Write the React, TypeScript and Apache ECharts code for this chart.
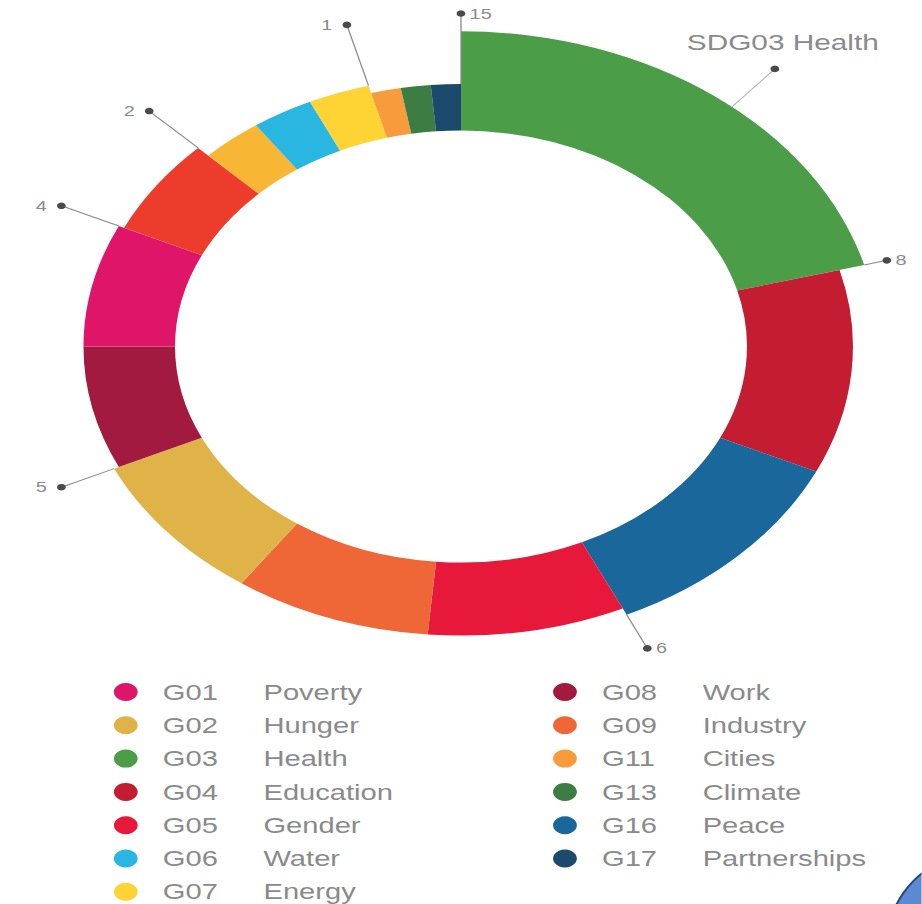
import React, { useEffect, useRef } from 'react';
import * as echarts from 'echarts';

// ---------- data ----------
const segmentCodes = ['G03', 'G04', 'G16', 'G05', 'G09', 'G02', 'G08', 'G01', 'G10', 'G12', 'G06', 'G07', 'G11', 'G13', 'G17'];
const segmentNames = ['Health', 'Education', 'Peace', 'Gender', 'Industry', 'Hunger', 'Work', 'Poverty', 'Inequality', 'Consumption', 'Water', 'Energy', 'Cities', 'Climate', 'Partnerships'];
const segmentValues = [15, 8, 8, 6, 6, 6, 5, 5, 4, 2, 2, 2, 1, 1, 1];
const segmentColors = ['#4b9e47', '#c41c30', '#19679b', '#e8183b', '#ef6737', '#e0b349', '#a31a40', '#df156a', '#ee3c2c', '#f7b634', '#29b6e1', '#fdd433', '#f79b3c', '#3b7d43', '#1b4a6d'];
const legendLeftCodes = ['G01', 'G02', 'G03', 'G04', 'G05', 'G06', 'G07'];
const legendRightCodes = ['G08', 'G09', 'G11', 'G13', 'G16', 'G17'];
const highlightCode = 'G03';

// ---------- layout / style ----------
const STRETCH = 1.324;
const PAGE_W = 922;
const PAGE_H = 904;
const CHART_W = PAGE_W / STRETCH;
const CX = 461 / STRETCH;
const CY = 346.5;
const INNER_R = 216;
const R_BASE = 244;
const R_TOP = 317.6;
const DOT_R = 333;
const ANNOT_R = 365;
const ANNOT_FRACTION = 0.54;
const FONT = "'Liberation Sans', Arial, sans-serif";
const TEXT_COLOR = '#8a8a8a';
const LINE_COLOR = '#8c8c8c';
const DOT_COLOR = '#4a4a4a';

export default function App() {
  const ref = useRef<HTMLDivElement>(null);

  useEffect(() => {
    if (!ref.current) return;
    const chart = echarts.init(ref.current, null, { renderer: 'svg', width: CHART_W, height: PAGE_H });

    const n = segmentValues.length;
    const starts: number[] = [];
    let acc = 0;
    segmentValues.forEach((v) => { starts.push(acc); acc += v; });
    const total = acc;
    const fullNames = segmentCodes.map((c, i) => `${c} ${segmentNames[i]}`);
    const nameOf = (code: string) => fullNames[segmentCodes.indexOf(code)];

    const renderSegment = (params: any, api: any) => {
      const cs = params.coordSys;
      const s = api.value(0);
      const e = api.value(1);
      const v = api.value(2);
      const pa = api.coord([Math.sqrt(v), s]);
      const pb = api.coord([Math.sqrt(v), e]);
      const a0 = Math.atan2(pa[1] - cs.cy, pa[0] - cs.cx);
      let a1 = Math.atan2(pb[1] - cs.cy, pb[0] - cs.cx);
      while (a1 <= a0 + 1e-9) a1 += Math.PI * 2;
      const r = Math.hypot(pa[0] - cs.cx, pa[1] - cs.cy);
      return {
        type: 'sector',
        shape: { cx: cs.cx, cy: cs.cy, r0: INNER_R, r, startAngle: a0, endAngle: a1, clockwise: true },
        style: { fill: api.visual('color') },
      };
    };

    const segmentSeries = segmentCodes.map((c, i) => ({
      type: 'custom',
      name: fullNames[i],
      coordinateSystem: 'polar',
      renderItem: renderSegment,
      itemStyle: { color: segmentColors[i] },
      data: [[starts[i], starts[i] + segmentValues[i], segmentValues[i]]],
      silent: true,
      z: 2,
    }));

    const boundaries = segmentValues
      .map((v, i) => [starts[i], v, segmentValues[(i - 1 + n) % n]])
      .filter((_, i) => i === 0 || segmentValues[i] !== segmentValues[i - 1]);

    const renderLabel = (params: any, api: any) => {
      const cs = params.coordSys;
      const pos = api.value(0);
      const val = api.value(1);
      const prev = api.value(2);
      const p = api.coord([Math.sqrt(prev), pos]);
      const dx = p[0] - cs.cx;
      const dy = p[1] - cs.cy;
      const rr = Math.hypot(dx, dy);
      const ux = dx / rr;
      const uy = dy / rr;
      const x2 = cs.cx + ux * DOT_R;
      const y2 = cs.cy + uy * DOT_R;
      const right = ux > -0.01;
      const align = right ? 'left' : 'right';
      return {
        type: 'group',
        children: [
          { type: 'line', shape: { x1: p[0], y1: p[1], x2, y2 }, style: { stroke: LINE_COLOR, lineWidth: 1 } },
          { type: 'circle', shape: { cx: x2, cy: y2, r: 3.3 }, style: { fill: DOT_COLOR } },
          {
            type: 'text',
            x: x2 + (right ? 6.5 : -11),
            y: y2,
            style: {
              text: String(val), fill: TEXT_COLOR, fontSize: 15, fontFamily: FONT,
              textAlign: align, textVerticalAlign: 'middle', align, verticalAlign: 'middle',
            },
          },
        ],
      };
    };

    const h = segmentCodes.indexOf(highlightCode);
    const annotData = [[starts[h] + segmentValues[h] * ANNOT_FRACTION, segmentValues[h]]];
    const annotText = `SD${segmentCodes[h]} ${segmentNames[h]}`;
    const renderAnnot = (params: any, api: any) => {
      const cs = params.coordSys;
      const pos = api.value(0);
      const v = api.value(1);
      const p = api.coord([Math.sqrt(v), pos]);
      const dx = p[0] - cs.cx;
      const dy = p[1] - cs.cy;
      const rr = Math.hypot(dx, dy);
      const x2 = cs.cx + (dx / rr) * ANNOT_R;
      const y2 = cs.cy + (dy / rr) * ANNOT_R;
      return {
        type: 'group',
        children: [
          { type: 'line', shape: { x1: p[0], y1: p[1], x2, y2 }, style: { stroke: '#b5b5b5', lineWidth: 1 } },
          { type: 'circle', shape: { cx: x2, cy: y2, r: 3.3 }, style: { fill: DOT_COLOR } },
          {
            type: 'text',
            x: x2 + 6,
            y: y2 - 27,
            style: {
              text: annotText, fill: TEXT_COLOR, fontSize: 22.5, fontFamily: FONT,
              textAlign: 'center', textVerticalAlign: 'middle', align: 'center', verticalAlign: 'middle',
            },
          },
        ],
      };
    };

    const rich = {
      c: { width: 76, fontSize: 22, fontFamily: FONT, color: TEXT_COLOR },
      n: { fontSize: 22, fontFamily: FONT, color: TEXT_COLOR },
    };
    const legendCommon = {
      orient: 'vertical',
      top: 681,
      height: 320,
      padding: 0,
      itemWidth: 18,
      itemHeight: 18,
      itemGap: 11.3,
      icon: 'circle',
      selectedMode: false,
      formatter: (name: string) => {
        const idx = name.indexOf(' ');
        return `{c|${name.slice(0, idx)}}{n|${name.slice(idx + 1)}}`;
      },
      textStyle: { padding: [0, 0, 0, 14], rich },
    };

    chart.setOption({
      animation: false,
      polar: { center: [CX, CY], radius: [R_BASE, R_TOP] },
      angleAxis: { type: 'value', min: 0, max: total, startAngle: 90, clockwise: true, show: false },
      radiusAxis: { type: 'value', min: 0, max: 4, show: false },
      legend: [
        { ...legendCommon, left: 86, data: legendLeftCodes.map(nameOf) },
        { ...legendCommon, left: 417.7, data: legendRightCodes.map(nameOf) },
      ],
      graphic: [
        {
          type: 'ellipse',
          shape: { cx: 978 / STRETCH, cy: 945, rx: 91 / STRETCH, ry: 91 },
          style: { fill: '#5b8ad2', stroke: '#24467f', lineWidth: 1.6 },
          z: 10,
        },
      ],
      series: [
        ...segmentSeries,
        { type: 'custom', name: 'boundary-labels', coordinateSystem: 'polar', renderItem: renderLabel, data: boundaries, silent: true, z: 5 },
        { type: 'custom', name: 'highlight-label', coordinateSystem: 'polar', renderItem: renderAnnot, data: annotData, silent: true, z: 5 },
      ],
    } as any);

    return () => chart.dispose();
  }, []);

  return (
    <div style={{ position: 'fixed', left: 0, top: 0, width: PAGE_W, height: PAGE_H, overflow: 'hidden', background: '#fff' }}>
      <div
        ref={ref}
        style={{ width: CHART_W, height: PAGE_H, transform: `scaleX(${STRETCH})`, transformOrigin: '0 0' }}
      />
    </div>
  );
}
